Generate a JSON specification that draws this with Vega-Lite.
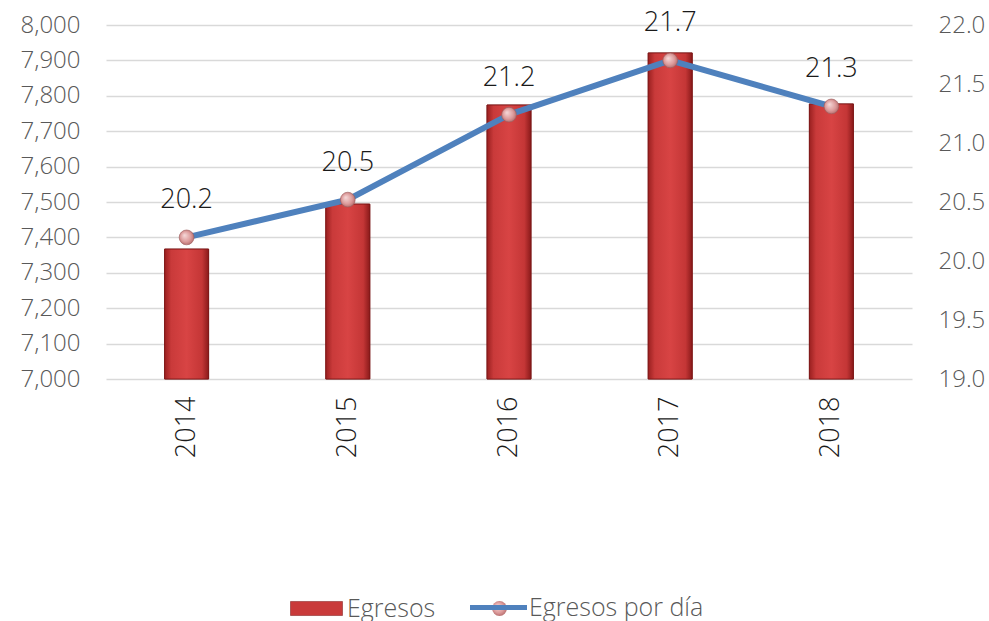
{
  "$schema": "https://vega.github.io/schema/vega-lite/v6.json",
  "width": 806,
  "height": 354,
  "autosize": "none",
  "padding": {"left": 106, "top": 25, "right": 77, "bottom": 242},
  "background": "white",
  "config": {
    "view": {"stroke": null},
    "font": "Open Sans",
    "axis": {"labelFont": "Open Sans", "labelFontWeight": 300, "labelColor": "#595959", "labelFontSize": 24},
    "legend": {"labelFont": "Open Sans", "labelFontWeight": 300, "labelColor": "#595959", "labelFontSize": 25, "labelLimit": 400}
  },
  "data": {
    "values": [
      {"year": "2014", "egresos": 7367, "por_dia": 20.2},
      {"year": "2015", "egresos": 7494, "por_dia": 20.52},
      {"year": "2016", "egresos": 7774, "por_dia": 21.24},
      {"year": "2017", "egresos": 7921, "por_dia": 21.7},
      {"year": "2018", "egresos": 7777, "por_dia": 21.31}
    ]
  },
  "encoding": {
    "x": {
      "field": "year", "type": "nominal", "title": null,
      "axis": {"labelAngle": -90, "labelFontSize": 27, "labelPadding": 17, "ticks": false, "domain": false, "labelColor": "#1a1a1a"}
    }
  },
  "layer": [
    {
      "encoding": {
        "y": {
          "field": "egresos", "type": "quantitative", "title": null,
          "scale": {"domain": [7000, 8000], "zero": false, "nice": false},
          "axis": {"values": [7000, 7100, 7200, 7300, 7400, 7500, 7600, 7700, 7800, 7900, 8000], "format": ",.0f", "ticks": false, "domain": false, "labelPadding": 26, "gridColor": "#d9d9d9", "gridWidth": 1.5}
        },
        "y2": {"datum": 7000}
      },
      "layer": [
        {
          "mark": {"type": "bar", "size": 44, "stroke": "#7a1515", "strokeWidth": 0.8},
          "encoding": {
            "fill": {
              "datum": "Egresos", "type": "nominal",
              "scale": {"domain": ["Egresos"], "range": ["#c93a3a"]},
              "legend": {"orient": "none", "legendX": 184, "legendY": 557, "title": null, "symbolType": "M-1,-0.27 H1 V0.27 H-1 Z", "symbolSize": 2704, "symbolStrokeColor": "#7a1515", "symbolStrokeWidth": 0.5, "labelOffset": 4}
            }
          }
        },
        {
          "mark": {"type": "bar", "size": 44, "stroke": "#7a1515", "strokeWidth": 0.8, "fill": {"gradient": "linear", "x1": 0, "y1": 0, "x2": 1, "y2": 0, "stops": [{"offset": 0, "color": "#9a2020"}, {"offset": 0.15, "color": "#c93a3a"}, {"offset": 0.5, "color": "#d84444"}, {"offset": 0.85, "color": "#c43636"}, {"offset": 1, "color": "#8a1a1a"}]}}
        }
      ]
    },
    {
      "encoding": {
        "y": {
          "field": "por_dia", "type": "quantitative", "title": null,
          "scale": {"domain": [19, 22], "zero": false, "nice": false},
          "axis": {"orient": "right", "values": [19, 19.5, 20, 20.5, 21, 21.5, 22], "format": ".1f", "ticks": false, "domain": false, "grid": false, "labelPadding": 26}
        }
      },
      "layer": [
        {
          "mark": {"type": "line", "strokeWidth": 6},
          "encoding": {
            "stroke": {
              "datum": "Egresos por día", "type": "nominal",
              "scale": {"domain": ["Egresos por día"], "range": ["#4f81bd"]},
              "legend": {"orient": "none", "legendX": 364, "legendY": 554, "title": null, "symbolType": "M-1,-0.09 H1 V0.09 H-1 Z", "symbolSize": 3249, "symbolFillColor": "#4f81bd", "symbolStrokeWidth": 0, "labelOffset": 2}
            }
          }
        },
        {
          "mark": {"type": "point", "filled": true, "size": 220, "fill": {"gradient": "radial", "x1": 0.35, "y1": 0.35, "r1": 0, "x2": 0.5, "y2": 0.5, "r2": 0.6, "stops": [{"offset": 0, "color": "#f6dada"}, {"offset": 0.6, "color": "#dc9a9a"}, {"offset": 1, "color": "#a85d5d"}]}, "stroke": "#9a5a5a", "strokeWidth": 0.6, "opacity": 1},
          "encoding": {
            "shape": {
              "datum": "Egresos por día", "type": "nominal",
              "scale": {"domain": ["Egresos por día"], "range": ["circle"]},
              "legend": {"orient": "none", "legendX": 381, "legendY": 571, "title": null, "symbolSize": 220, "symbolFillColor": "#dc9a9a", "symbolStrokeColor": "#9a5a5a", "symbolStrokeWidth": 0.6, "labelExpr": "''"}
            }
          }
        },
        {
          "mark": {"type": "text", "dy": -37, "fontSize": 27, "font": "Open Sans", "fontWeight": 300, "color": "#1a1a1a"},
          "encoding": {"text": {"field": "por_dia", "type": "quantitative", "format": ".1f"}}
        }
      ]
    }
  ],
  "resolve": {"scale": {"y": "independent", "fill": "independent", "stroke": "independent"}}
}
